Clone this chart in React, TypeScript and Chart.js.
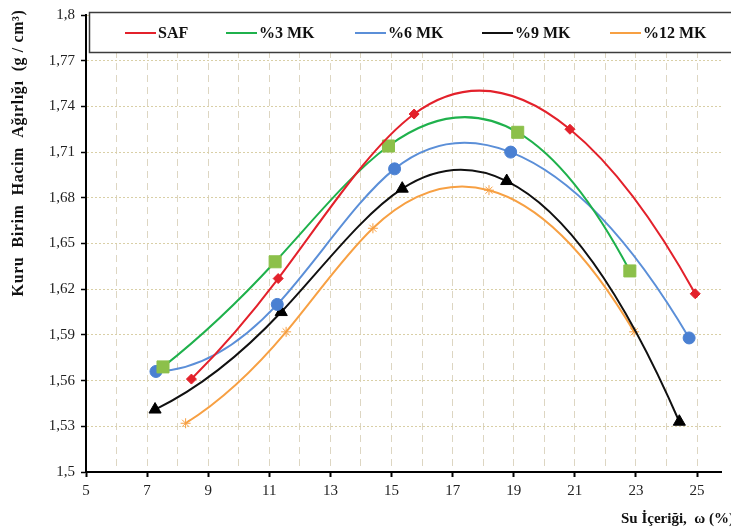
import React, { useEffect, useRef } from 'react';
import { Chart, registerables } from 'chart.js';

Chart.register(...registerables);

// ---- data ----
const seriesNames = ['SAF', '%3 MK', '%6 MK', '%9 MK', '%12 MK'];
const safX = [8.45, 11.29, 15.74, 20.84, 24.94];
const safY = [1.561, 1.627, 1.735, 1.725, 1.617];
const mk3X = [7.52, 11.19, 14.9, 19.13, 22.8];
const mk3Y = [1.569, 1.638, 1.714, 1.723, 1.632];
const mk6X = [7.29, 11.26, 15.1, 18.9, 24.74];
const mk6Y = [1.566, 1.61, 1.699, 1.71, 1.588];
const mk9X = [7.26, 11.39, 15.35, 18.77, 24.42];
const mk9Y = [1.541, 1.605, 1.686, 1.691, 1.533];
const mk12X = [8.26, 11.55, 14.39, 18.19, 22.94];
const mk12Y = [1.532, 1.592, 1.66, 1.685, 1.592];
const xLabelValues = [5, 7, 9, 11, 13, 15, 17, 19, 21, 23, 25];
const yTickValues = [1.5, 1.53, 1.56, 1.59, 1.62, 1.65, 1.68, 1.71, 1.74, 1.77, 1.8];
const yTitle = 'Kuru  Birim  Hacim  Ağırlığı  (g / cm³)';
const xTitle = 'Su İçeriği,  ω (%)';

const SERIF = '"Liberation Serif", "Times New Roman", serif';

const toPoints = (xs: number[], ys: number[]) => xs.map((x, i) => ({ x, y: ys[i] }));

// cubic spline (parabolic run-out ends): returns slope at left and right end of each segment
function splineSlopes(X: number[], Y: number[]) {
  const n = X.length;
  const h: number[] = [];
  const s: number[] = [];
  for (let i = 0; i < n - 1; i++) {
    h[i] = X[i + 1] - X[i];
    s[i] = (Y[i + 1] - Y[i]) / h[i];
  }
  const m = n - 2;
  let M: number[] = new Array(n).fill(0);
  if (m >= 1) {
    const a: number[] = [], b: number[] = [], c: number[] = [], d: number[] = [];
    for (let k = 0; k < m; k++) {
      const i = k + 1;
      a[k] = h[i - 1];
      b[k] = 2 * (h[i - 1] + h[i]);
      c[k] = h[i];
      d[k] = 6 * (s[i] - s[i - 1]);
    }
    b[0] += h[0];
    b[m - 1] += h[n - 2];
    for (let k = 1; k < m; k++) {
      const w = a[k] / b[k - 1];
      b[k] -= w * c[k - 1];
      d[k] -= w * d[k - 1];
    }
    const sol: number[] = new Array(m);
    sol[m - 1] = d[m - 1] / b[m - 1];
    for (let k = m - 2; k >= 0; k--) sol[k] = (d[k] - c[k] * sol[k + 1]) / b[k];
    M = [sol[0], ...sol, sol[m - 1]];
  }
  const ls: number[] = [];
  const rs: number[] = [];
  for (let i = 0; i < n - 1; i++) {
    ls[i] = s[i] - (h[i] * (2 * M[i] + M[i + 1])) / 6;
    rs[i] = s[i] + (h[i] * (M[i] + 2 * M[i + 1])) / 6;
  }
  return { ls, rs };
}

const splinePlugin = {
  id: 'smoothSpline',
  beforeDatasetsDraw(chart: any) {
    const sx = chart.scales.x;
    const sy = chart.scales.y;
    chart.data.datasets.forEach((ds: any, di: number) => {
      const meta = chart.getDatasetMeta(di);
      const line = meta.dataset;
      if (!line) return;
      if (typeof line.updateControlPoints === 'function') line.updateControlPoints(chart.chartArea, 'x');
      const X = ds.data.map((p: any) => p.x);
      const Y = ds.data.map((p: any) => p.y);
      const { ls, rs } = splineSlopes(X, Y);
      const pts = meta.data;
      const n = X.length;
      for (let i = 0; i < n; i++) {
        const pt = pts[i];
        if (i < n - 1) {
          const h = X[i + 1] - X[i];
          pt.cp2x = sx.getPixelForValue(X[i] + h / 3);
          pt.cp2y = sy.getPixelForValue(Y[i] + (ls[i] * h) / 3);
        } else {
          pt.cp2x = pt.x;
          pt.cp2y = pt.y;
        }
        if (i > 0) {
          const h = X[i] - X[i - 1];
          pt.cp1x = sx.getPixelForValue(X[i] - h / 3);
          pt.cp1y = sy.getPixelForValue(Y[i] - (rs[i - 1] * h) / 3);
        } else {
          pt.cp1x = pt.x;
          pt.cp1y = pt.y;
        }
      }
      line._path = undefined;
    });
  },
};

const legendXs = [125, 226, 355, 482, 610];

const decorPlugin = {
  id: 'decor',
  afterDraw(chart: any) {
    const ctx = chart.ctx as CanvasRenderingContext2D;
    ctx.save();
    // legend box
    ctx.fillStyle = '#ffffff';
    ctx.fillRect(89, 12, 660, 41);
    ctx.strokeStyle = '#3c3c3c';
    ctx.lineWidth = 1.5;
    ctx.strokeRect(89.5, 12.5, 660, 40);
    ctx.font = 'bold 16px ' + SERIF;
    ctx.textBaseline = 'middle';
    ctx.textAlign = 'left';
    chart.data.datasets.forEach((ds: any, i: number) => {
      const x = legendXs[i];
      ctx.strokeStyle = ds.borderColor;
      ctx.lineWidth = 2;
      ctx.beginPath();
      ctx.moveTo(x, 33);
      ctx.lineTo(x + 31, 33);
      ctx.stroke();
      ctx.fillStyle = '#111';
      ctx.fillText(ds.label, x + 33, 34);
    });
    // y title
    ctx.save();
    ctx.translate(19, 153);
    ctx.rotate(-Math.PI / 2);
    ctx.textAlign = 'center';
    ctx.textBaseline = 'middle';
    ctx.fillStyle = '#111';
    ctx.font = 'bold 16px ' + SERIF;
    try { (ctx as any).letterSpacing = '0.6px'; } catch (e) {}
    ctx.fillText(yTitle, 0, 0);
    try { (ctx as any).letterSpacing = '0px'; } catch (e) {}
    ctx.restore();
    // x title
    ctx.textAlign = 'right';
    ctx.textBaseline = 'middle';
    ctx.fillStyle = '#111';
    ctx.font = 'bold 15px ' + SERIF;
    ctx.fillText(xTitle, 734, 519);
    ctx.restore();
  },
};

export default function App() {
  const ref = useRef<HTMLCanvasElement | null>(null);

  useEffect(() => {
    if (!ref.current) return;
    const mk = (label: string, xs: number[], ys: number[], color: string, pointStyle: string, radius: number, pointColor: string, pbw: number) => ({
      label,
      data: toPoints(xs, ys),
      borderColor: color,
      backgroundColor: pointColor,
      pointBackgroundColor: pointColor,
      pointBorderColor: pointColor,
      pointBorderWidth: pbw,
      pointStyle,
      pointRadius: radius,
      borderWidth: 2,
      tension: 0.4,
      fill: false,
      showLine: true,
    });
    const chart = new Chart(ref.current, {
      type: 'line',
      data: {
        datasets: [
          mk(seriesNames[0], safX, safY, '#e3212b', 'rectRot', 5, '#e3212b', 1),
          mk(seriesNames[1], mk3X, mk3Y, '#1fb14c', 'rect', 8.5, '#8cc04a', 1),
          mk(seriesNames[2], mk6X, mk6Y, '#5b8fd8', 'circle', 6, '#4a80d2', 1),
          mk(seriesNames[3], mk9X, mk9Y, '#111111', 'triangle', 7, '#000000', 1),
          mk(seriesNames[4], mk12X, mk12Y, '#f7a043', 'star', 5, '#f7a043', 1),
        ],
      },
      options: {
        animation: false,
        responsive: false,
        maintainAspectRatio: false,
        layout: { padding: { top: 11, left: 0, right: 0, bottom: 0 } },
        plugins: { legend: { display: false }, tooltip: { enabled: false } },
        scales: {
          x: {
            type: 'linear',
            min: 5,
            max: 25.8,
            afterFit: (s: any) => { s.height = 60; },
            ticks: {
              stepSize: 1,
              includeBounds: false,
              autoSkip: false,
              maxRotation: 0,
              padding: 5,
              color: '#222',
              font: { family: SERIF, size: 15 },
              callback: (v: any) => {
                const r = Math.round(Number(v));
                return xLabelValues.includes(r) ? String(r) : '';
              },
            },
            grid: {
              color: '#ddd6c2',
              lineWidth: 1,
              tickLength: 5,
              tickWidth: 2,
              tickColor: (c: any) => (c.tick && xLabelValues.includes(Math.round(c.tick.value)) ? '#000' : 'rgba(0,0,0,0)'),
            },
            border: { display: true, color: '#000', width: 2, dash: [7, 5] },
          },
          y: {
            type: 'linear',
            min: 1.5,
            max: 1.8,
            afterFit: (s: any) => { s.width = 86; },
            afterBuildTicks: (s: any) => { s.ticks = yTickValues.map((v) => ({ value: v })); },
            ticks: {
              padding: 6,
              color: '#222',
              font: { family: SERIF, size: 15 },
              callback: (v: any) => String(Math.round(Number(v) * 100) / 100).replace('.', ','),
            },
            grid: {
              color: '#d9cfa6',
              lineWidth: 1,
              tickLength: 5,
              tickWidth: 1.5,
              tickColor: '#000',
            },
            border: { display: true, color: '#000', width: 2, dash: [2, 2] },
          },
        },
      },
      plugins: [splinePlugin, decorPlugin],
    } as any);
    return () => chart.destroy();
  }, []);

  return (
    <div style={{ position: 'fixed', left: 0, top: 0, width: 731, height: 532, background: '#fff' }}>
      <canvas ref={ref} width={731} height={532} style={{ display: 'block' }} />
    </div>
  );
}
